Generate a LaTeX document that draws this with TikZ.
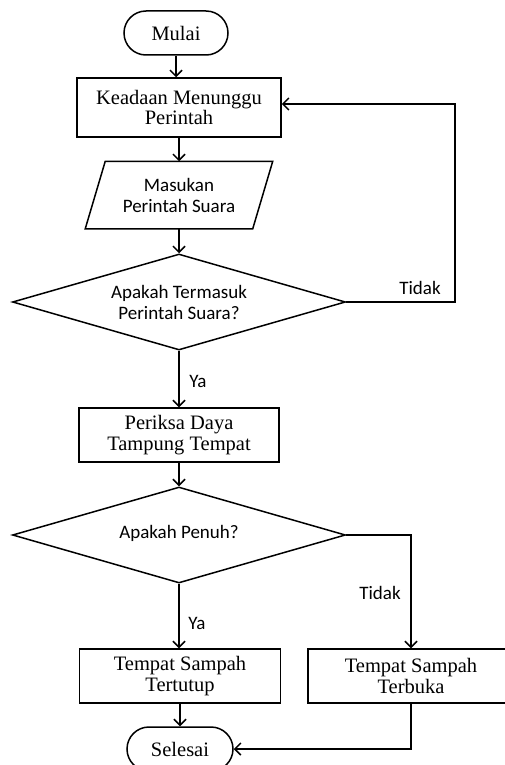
\documentclass[tikz,border=0pt]{standalone}
\usepackage{fontspec}
\setmainfont{Liberation Serif}
\newfontfamily\sansf{Carlito}
\usetikzlibrary{arrows.meta,shapes.geometric}
\begin{document}
\begin{tikzpicture}[x=1pt,y=-1pt,
  line width=1.5pt,
  serif/.style={font=\fontsize{20.5}{20.5}\selectfont, align=center},
  sans/.style={font=\sansf\fontsize{19}{21}\selectfont, align=center},
  proc/.style={draw, rectangle, serif, minimum height=54pt, inner sep=0pt},
  term/.style={draw, rectangle, rounded corners=22pt, serif, minimum width=104pt, minimum height=44pt, inner sep=0pt},
  dec/.style={draw, diamond, aspect=3.47, sans, minimum width=333pt, minimum height=96pt, inner sep=0pt},
  conn/.style={-{Straight Barb[length=6pt,width=12pt]}},
  lbl/.style={sans, inner sep=0pt}
]
\useasboundingbox (0,0) rectangle (504,765);
\fill[white] (0,0) rectangle (504,765);

\node[term] (start) at (176,33) {Mulai};
\node[proc, minimum width=204pt, minimum height=59pt] (wait) at (179,107.5) {Keadaan Menunggu\\Perintah};
\node[sans, minimum width=166pt, minimum height=66pt, inner sep=0pt] (input) at (179,195) {Masukan\\Perintah Suara};
\draw ([xshift=-10pt]input.south west) -- ([xshift=10pt]input.north west) -- ([xshift=10pt]input.north east) -- ([xshift=-10pt]input.south east) -- cycle;
\node[dec] (d1) at (179,302) {Apakah Termasuk\\Perintah Suara?};
\node[proc, minimum width=200pt] (check) at (179,435) {Periksa Daya\\Tampung Tempat};
\node[dec] (d2) at (179,535) {\raisebox{6pt}{Apakah Penuh?}};
\node[proc, minimum width=201pt] (closed) at (180,676) {Tempat Sampah\\Tertutup};
\node[proc, minimum width=206pt] (open) at (411,676) {Tempat Sampah\\Terbuka};
\node[term, minimum width=106pt] (end) at (180,749) {Selesai};

\coordinate (lp) at (455,104);

\draw[conn] (start.south) -- (start.south |- wait.north);
\draw[conn] (wait.south) -- (wait.south |- input.north);
\draw[conn] (input.south) -- (d1.north);
\draw[conn] (d1.south) -- (check.north);
\node[lbl] (ya1) at (198,381) {Ya};
\draw[conn] (d1.east) -| (lp) -- (wait.east |- lp);
\node[lbl] (tidak1) at (420,288) {Tidak};
\draw[conn] (check.south) -- (d2.north);
\draw[conn] (d2.south) -- (d2.south |- closed.north);
\node[lbl] (ya2) at (197,623) {Ya};
\draw[conn] (d2.east) -| (open.north);
\node[lbl] (tidak2) at (380,593) {Tidak};
\draw[conn] (closed.south) -- (closed.south |- end.north);
\draw[conn] (open.south) |- (end.east);
\end{tikzpicture}
\end{document}
